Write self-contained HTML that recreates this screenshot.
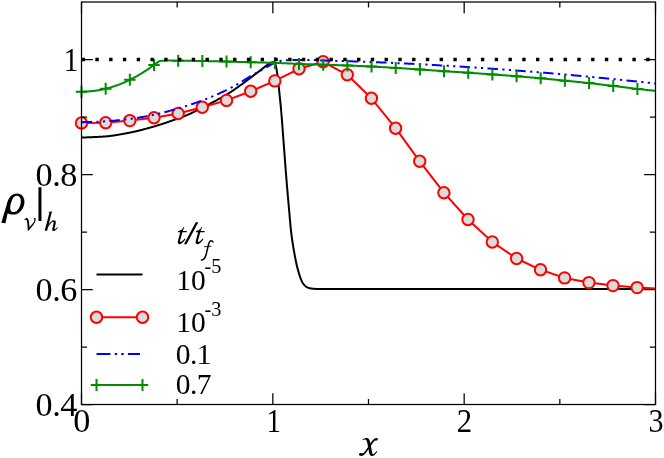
<!DOCTYPE html>
<html><head><meta charset="utf-8"><title>plot</title>
<style>html,body{margin:0;padding:0;background:#fff}svg{display:block}text{filter:grayscale(1);font-family:"Liberation Serif",serif;fill:#000}</style></head>
<body>
<svg width="664" height="458" viewBox="0 0 664 458">
<rect width="664" height="458" fill="#fff"/>
<defs><clipPath id="c"><rect x="81.50" y="2.00" width="574.00" height="402.50"/></clipPath></defs>
<path d="M81.50 137.60 L82.00 137.58 L82.50 137.55 L83.00 137.53 L83.50 137.51 L84.00 137.49 L84.50 137.46 L85.00 137.44 L85.50 137.42 L86.00 137.40 L86.50 137.38 L87.00 137.36 L87.50 137.34 L88.00 137.32 L88.50 137.30 L89.00 137.28 L89.50 137.26 L90.00 137.24 L90.50 137.22 L91.00 137.20 L91.50 137.18 L92.00 137.16 L92.50 137.14 L93.00 137.12 L93.50 137.10 L94.00 137.08 L94.50 137.06 L95.00 137.03 L95.50 137.01 L96.00 136.99 L96.50 136.97 L97.00 136.94 L97.50 136.92 L98.00 136.89 L98.50 136.87 L99.00 136.84 L99.50 136.81 L100.00 136.79 L100.50 136.76 L101.00 136.73 L101.50 136.70 L102.00 136.67 L102.50 136.64 L103.00 136.60 L103.50 136.57 L104.00 136.54 L104.50 136.50 L105.00 136.46 L105.50 136.42 L106.00 136.38 L106.50 136.34 L107.00 136.29 L107.50 136.24 L108.00 136.19 L108.50 136.14 L109.00 136.08 L109.50 136.02 L110.00 135.96 L110.50 135.90 L111.00 135.84 L111.50 135.78 L112.00 135.71 L112.50 135.64 L113.00 135.57 L113.50 135.50 L114.00 135.43 L114.50 135.35 L115.00 135.28 L115.50 135.20 L116.00 135.12 L116.50 135.04 L117.00 134.96 L117.50 134.88 L118.00 134.79 L118.50 134.71 L119.00 134.62 L119.50 134.54 L120.00 134.45 L120.50 134.36 L121.00 134.27 L121.50 134.18 L122.00 134.09 L122.50 134.00 L123.00 133.91 L123.50 133.81 L124.00 133.72 L124.50 133.63 L125.00 133.53 L125.50 133.44 L126.00 133.35 L126.50 133.25 L127.00 133.16 L127.50 133.06 L128.00 132.97 L128.50 132.87 L129.00 132.78 L129.50 132.68 L130.00 132.58 L130.50 132.49 L131.00 132.39 L131.50 132.29 L132.00 132.18 L132.50 132.08 L133.00 131.97 L133.50 131.86 L134.00 131.75 L134.50 131.64 L135.00 131.53 L135.50 131.41 L136.00 131.30 L136.50 131.18 L137.00 131.06 L137.50 130.94 L138.00 130.82 L138.50 130.70 L139.00 130.58 L139.50 130.45 L140.00 130.33 L140.50 130.20 L141.00 130.07 L141.50 129.94 L142.00 129.81 L142.50 129.68 L143.00 129.55 L143.50 129.42 L144.00 129.29 L144.50 129.15 L145.00 129.02 L145.50 128.88 L146.00 128.75 L146.50 128.61 L147.00 128.47 L147.50 128.33 L148.00 128.20 L148.50 128.06 L149.00 127.92 L149.50 127.78 L150.00 127.64 L150.50 127.49 L151.00 127.35 L151.50 127.21 L152.00 127.07 L152.50 126.93 L153.00 126.79 L153.50 126.64 L154.00 126.50 L154.50 126.35 L155.00 126.20 L155.50 126.05 L156.00 125.90 L156.50 125.75 L157.00 125.60 L157.50 125.44 L158.00 125.29 L158.50 125.13 L159.00 124.98 L159.50 124.82 L160.00 124.66 L160.50 124.50 L161.00 124.34 L161.50 124.17 L162.00 124.01 L162.50 123.85 L163.00 123.68 L163.50 123.52 L164.00 123.35 L164.50 123.18 L165.00 123.02 L165.50 122.85 L166.00 122.68 L166.50 122.51 L167.00 122.34 L167.50 122.17 L168.00 122.00 L168.50 121.82 L169.00 121.65 L169.50 121.48 L170.00 121.30 L170.50 121.13 L171.00 120.96 L171.50 120.78 L172.00 120.61 L172.50 120.43 L173.00 120.25 L173.50 120.08 L174.00 119.90 L174.50 119.73 L175.00 119.55 L175.50 119.37 L176.00 119.20 L176.50 119.02 L177.00 118.84 L177.50 118.66 L178.00 118.49 L178.50 118.31 L179.00 118.13 L179.50 117.96 L180.00 117.78 L180.50 117.60 L181.00 117.42 L181.50 117.24 L182.00 117.06 L182.50 116.87 L183.00 116.69 L183.50 116.50 L184.00 116.31 L184.50 116.12 L185.00 115.93 L185.50 115.73 L186.00 115.53 L186.50 115.33 L187.00 115.12 L187.50 114.92 L188.00 114.70 L188.50 114.49 L189.00 114.27 L189.50 114.04 L190.00 113.82 L190.50 113.59 L191.00 113.35 L191.50 113.12 L192.00 112.88 L192.50 112.64 L193.00 112.40 L193.50 112.15 L194.00 111.91 L194.50 111.66 L195.00 111.41 L195.50 111.16 L196.00 110.91 L196.50 110.66 L197.00 110.41 L197.50 110.16 L198.00 109.90 L198.50 109.65 L199.00 109.40 L199.50 109.15 L200.00 108.90 L200.50 108.65 L201.00 108.40 L201.50 108.15 L202.00 107.90 L202.50 107.65 L203.00 107.39 L203.50 107.14 L204.00 106.88 L204.50 106.63 L205.00 106.37 L205.50 106.12 L206.00 105.86 L206.50 105.60 L207.00 105.34 L207.50 105.09 L208.00 104.83 L208.50 104.56 L209.00 104.30 L209.50 104.04 L210.00 103.78 L210.50 103.51 L211.00 103.25 L211.50 102.98 L212.00 102.72 L212.50 102.45 L213.00 102.18 L213.50 101.91 L214.00 101.64 L214.50 101.37 L215.00 101.10 L215.50 100.83 L216.00 100.56 L216.50 100.28 L217.00 100.01 L217.50 99.74 L218.00 99.47 L218.50 99.19 L219.00 98.92 L219.50 98.65 L220.00 98.37 L220.50 98.09 L221.00 97.82 L221.50 97.54 L222.00 97.26 L222.50 96.98 L223.00 96.69 L223.50 96.41 L224.00 96.12 L224.50 95.83 L225.00 95.54 L225.50 95.25 L226.00 94.95 L226.50 94.66 L227.00 94.36 L227.50 94.05 L228.00 93.75 L228.50 93.44 L229.00 93.13 L229.50 92.81 L230.00 92.49 L230.50 92.17 L231.00 91.84 L231.50 91.52 L232.00 91.18 L232.50 90.85 L233.00 90.51 L233.50 90.17 L234.00 89.83 L234.50 89.48 L235.00 89.13 L235.50 88.78 L236.00 88.43 L236.50 88.07 L237.00 87.72 L237.50 87.36 L238.00 87.00 L238.50 86.64 L239.00 86.28 L239.50 85.91 L240.00 85.55 L240.50 85.18 L241.00 84.81 L241.50 84.45 L242.00 84.08 L242.50 83.71 L243.00 83.34 L243.50 82.97 L244.00 82.60 L244.50 82.23 L245.00 81.86 L245.50 81.49 L246.00 81.12 L246.50 80.75 L247.00 80.39 L247.50 80.02 L248.00 79.65 L248.50 79.29 L249.00 78.92 L249.50 78.55 L250.00 78.17 L250.50 77.80 L251.00 77.43 L251.50 77.05 L252.00 76.67 L252.50 76.30 L253.00 75.92 L253.50 75.54 L254.00 75.16 L254.50 74.78 L255.00 74.40 L255.50 74.02 L256.00 73.64 L256.50 73.26 L257.00 72.89 L257.50 72.51 L258.00 72.13 L258.50 71.75 L259.00 71.37 L259.50 70.99 L260.00 70.60 L260.50 70.21 L261.00 69.81 L261.50 69.41 L262.00 69.01 L262.50 68.61 L263.00 68.21 L263.50 67.81 L264.00 67.42 L264.50 67.03 L265.00 66.64 L265.50 66.27 L266.00 65.90 L266.50 65.54 L267.00 65.18 L267.50 64.84 L268.00 64.52 L268.50 64.20 L269.00 63.88 L269.50 63.54 L270.00 63.21 L270.50 62.91 L271.00 62.66 L271.50 62.47 L272.00 62.37 L272.50 62.31 L273.00 62.26 L273.50 62.21 L274.40 62.40 L274.70 62.95 L275.00 63.49 L275.30 64.14 L275.60 65.01 L275.90 66.15 L276.20 67.52 L276.50 69.08 L276.80 70.81 L277.10 72.66 L277.40 74.60 L277.70 76.78 L278.00 79.31 L278.30 82.11 L278.60 85.05 L278.90 88.06 L279.20 91.03 L279.50 93.91 L279.80 96.77 L280.10 99.66 L280.40 102.62 L280.70 105.68 L281.00 108.89 L281.30 112.29 L281.60 115.89 L281.90 119.67 L282.20 123.58 L282.50 127.57 L282.80 131.62 L283.10 135.69 L283.40 139.73 L283.70 143.70 L284.00 147.60 L284.30 151.54 L284.60 155.49 L284.90 159.45 L285.20 163.40 L285.50 167.33 L285.80 171.21 L286.10 175.03 L286.40 178.77 L286.70 182.43 L287.00 186.04 L287.30 189.60 L287.60 193.11 L287.90 196.58 L288.20 200.01 L288.50 203.41 L288.80 206.77 L289.10 210.12 L289.40 213.53 L289.70 216.98 L290.00 220.40 L290.30 223.73 L290.60 226.89 L290.90 229.84 L291.20 232.50 L291.50 234.92 L291.80 237.19 L292.10 239.34 L292.40 241.39 L292.70 243.34 L293.00 245.22 L293.30 247.04 L293.60 248.82 L293.90 250.58 L294.20 252.31 L294.50 254.00 L294.80 255.64 L295.10 257.24 L295.40 258.79 L295.70 260.28 L296.00 261.73 L296.30 263.11 L296.60 264.44 L296.90 265.71 L297.20 266.95 L297.50 268.15 L297.80 269.30 L298.10 270.42 L298.40 271.49 L298.70 272.51 L299.00 273.50 L299.30 274.46 L299.60 275.41 L299.90 276.34 L300.20 277.23 L300.50 278.09 L300.80 278.91 L301.10 279.67 L301.40 280.37 L301.70 281.00 L302.00 281.58 L302.30 282.13 L302.60 282.65 L302.90 283.14 L303.20 283.60 L303.50 284.02 L303.80 284.42 L304.10 284.78 L304.40 285.11 L304.70 285.41 L305.00 285.71 L305.30 285.99 L305.60 286.25 L305.90 286.49 L306.20 286.71 L306.50 286.91 L306.80 287.09 L307.10 287.25 L307.40 287.40 L307.70 287.54 L308.00 287.67 L308.30 287.79 L308.60 287.90 L308.90 288.00 L309.20 288.10 L309.50 288.18 L309.80 288.26 L310.10 288.32 L310.40 288.38 L310.70 288.44 L311.00 288.49 L311.30 288.55 L311.60 288.59 L311.90 288.64 L312.20 288.68 L312.50 288.72 L312.80 288.75 L313.10 288.77 L313.40 288.79 L313.70 288.81 L314.00 288.83 L314.30 288.84 L314.60 288.85 L314.90 288.86 L315.20 288.87 L315.50 288.88 L315.80 288.89 L316.10 288.90 L316.40 288.91 L316.70 288.92 L317.00 288.93 L317.30 288.93 L317.60 288.94 L317.90 288.95 L318.20 288.95 L318.50 288.96 L318.80 288.97 L319.10 288.97 L319.40 288.98 L319.70 288.99 L320.00 289.00 L655.50 289.00" fill="none" stroke="#000" stroke-width="2" stroke-linejoin="round"/>
<path d="M81.50 123.00 L105.70 122.70 L129.80 120.60 L154.00 117.70 L178.20 113.50 L202.30 107.30 L226.50 100.40 L250.70 91.20 L274.80 80.90 L299.00 68.80 L323.10 61.80 L347.30 74.80 L371.40 98.30 L395.60 128.20 L419.70 161.30 L443.90 192.70 L468.00 219.50 L492.30 242.00 L516.60 258.50 L540.50 269.80 L564.60 277.90 L588.90 282.60 L613.00 285.60 L637.10 287.60 L655.50 288.40" fill="none" stroke="#ff0000" stroke-width="2" stroke-linejoin="round"/>
<circle cx="81.50" cy="123.00" r="5.7" fill="#dcdcdc" stroke="#ff0000" stroke-width="2"/>
<circle cx="105.70" cy="122.70" r="5.7" fill="#dcdcdc" stroke="#ff0000" stroke-width="2"/>
<circle cx="129.80" cy="120.60" r="5.7" fill="#dcdcdc" stroke="#ff0000" stroke-width="2"/>
<circle cx="154.00" cy="117.70" r="5.7" fill="#dcdcdc" stroke="#ff0000" stroke-width="2"/>
<circle cx="178.20" cy="113.50" r="5.7" fill="#dcdcdc" stroke="#ff0000" stroke-width="2"/>
<circle cx="202.30" cy="107.30" r="5.7" fill="#dcdcdc" stroke="#ff0000" stroke-width="2"/>
<circle cx="226.50" cy="100.40" r="5.7" fill="#dcdcdc" stroke="#ff0000" stroke-width="2"/>
<circle cx="250.70" cy="91.20" r="5.7" fill="#dcdcdc" stroke="#ff0000" stroke-width="2"/>
<circle cx="274.80" cy="80.90" r="5.7" fill="#dcdcdc" stroke="#ff0000" stroke-width="2"/>
<circle cx="299.00" cy="68.80" r="5.7" fill="#dcdcdc" stroke="#ff0000" stroke-width="2"/>
<circle cx="323.10" cy="61.80" r="5.7" fill="#dcdcdc" stroke="#ff0000" stroke-width="2"/>
<circle cx="347.30" cy="74.80" r="5.7" fill="#dcdcdc" stroke="#ff0000" stroke-width="2"/>
<circle cx="371.40" cy="98.30" r="5.7" fill="#dcdcdc" stroke="#ff0000" stroke-width="2"/>
<circle cx="395.60" cy="128.20" r="5.7" fill="#dcdcdc" stroke="#ff0000" stroke-width="2"/>
<circle cx="419.70" cy="161.30" r="5.7" fill="#dcdcdc" stroke="#ff0000" stroke-width="2"/>
<circle cx="443.90" cy="192.70" r="5.7" fill="#dcdcdc" stroke="#ff0000" stroke-width="2"/>
<circle cx="468.00" cy="219.50" r="5.7" fill="#dcdcdc" stroke="#ff0000" stroke-width="2"/>
<circle cx="492.30" cy="242.00" r="5.7" fill="#dcdcdc" stroke="#ff0000" stroke-width="2"/>
<circle cx="516.60" cy="258.50" r="5.7" fill="#dcdcdc" stroke="#ff0000" stroke-width="2"/>
<circle cx="540.50" cy="269.80" r="5.7" fill="#dcdcdc" stroke="#ff0000" stroke-width="2"/>
<circle cx="564.60" cy="277.90" r="5.7" fill="#dcdcdc" stroke="#ff0000" stroke-width="2"/>
<circle cx="588.90" cy="282.60" r="5.7" fill="#dcdcdc" stroke="#ff0000" stroke-width="2"/>
<circle cx="613.00" cy="285.60" r="5.7" fill="#dcdcdc" stroke="#ff0000" stroke-width="2"/>
<circle cx="637.10" cy="287.60" r="5.7" fill="#dcdcdc" stroke="#ff0000" stroke-width="2"/>
<path d="M81.50 122.19 L82.50 122.16 L83.50 122.13 L84.50 122.09 L85.50 122.06 L86.50 122.03 L87.50 122.00 L88.50 121.96 L89.50 121.93 L90.50 121.90 L91.50 121.87 L92.50 121.84 L93.50 121.80 L94.50 121.77 L95.50 121.74 L96.50 121.70 L97.50 121.67 L98.50 121.63 L99.50 121.59 L100.50 121.55 L101.50 121.50 L102.50 121.46 L103.50 121.41 L104.50 121.36 L105.50 121.31 L106.50 121.25 L107.50 121.19 L108.50 121.13 L109.50 121.06 L110.50 120.98 L111.50 120.90 L112.50 120.82 L113.50 120.73 L114.50 120.64 L115.50 120.55 L116.50 120.45 L117.50 120.35 L118.50 120.24 L119.50 120.14 L120.50 120.03 L121.50 119.91 L122.50 119.80 L123.50 119.68 L124.50 119.56 L125.50 119.44 L126.50 119.32 L127.50 119.20 L128.50 119.08 L129.50 118.95 L130.50 118.82 L131.50 118.69 L132.50 118.55 L133.50 118.41 L134.50 118.27 L135.50 118.12 L136.50 117.97 L137.50 117.81 L138.50 117.65 L139.50 117.48 L140.50 117.32 L141.50 117.14 L142.50 116.97 L143.50 116.79 L144.50 116.61 L145.50 116.42 L146.50 116.23 L147.50 116.04 L148.50 115.85 L149.50 115.65 L150.50 115.45 L151.50 115.25 L152.50 115.05 L153.50 114.84 L154.50 114.63 L155.50 114.41 L156.50 114.19 L157.50 113.97 L158.50 113.74 L159.50 113.50 L160.50 113.26 L161.50 113.01 L162.50 112.76 L163.50 112.50 L164.50 112.24 L165.50 111.98 L166.50 111.71 L167.50 111.44 L168.50 111.17 L169.50 110.89 L170.50 110.61 L171.50 110.33 L172.50 110.05 L173.50 109.77 L174.50 109.48 L175.50 109.19 L176.50 108.90 L177.50 108.62 L178.50 108.32 L179.50 108.03 L180.50 107.74 L181.50 107.44 L182.50 107.14 L183.50 106.83 L184.50 106.52 L185.50 106.21 L186.50 105.90 L187.50 105.58 L188.50 105.26 L189.50 104.94 L190.50 104.61 L191.50 104.28 L192.50 103.94 L193.50 103.61 L194.50 103.27 L195.50 102.92 L196.50 102.57 L197.50 102.22 L198.50 101.87 L199.50 101.51 L200.50 101.14 L201.50 100.78 L202.50 100.41 L203.50 100.03 L204.50 99.65 L205.50 99.26 L206.50 98.87 L207.50 98.47 L208.50 98.07 L209.50 97.66 L210.50 97.25 L211.50 96.83 L212.50 96.41 L213.50 95.99 L214.50 95.56 L215.50 95.13 L216.50 94.69 L217.50 94.25 L218.50 93.80 L219.50 93.35 L220.50 92.90 L221.50 92.44 L222.50 91.98 L223.50 91.51 L224.50 91.04 L225.50 90.56 L226.50 90.07 L227.50 89.57 L228.50 89.07 L229.50 88.56 L230.50 88.04 L231.50 87.52 L232.50 86.99 L233.50 86.45 L234.50 85.91 L235.50 85.35 L236.50 84.78 L237.50 84.19 L238.50 83.59 L239.50 82.99 L240.50 82.37 L241.50 81.75 L242.50 81.12 L243.50 80.49 L244.50 79.86 L245.50 79.23 L246.50 78.61 L247.50 78.00 L248.50 77.39 L249.50 76.80 L250.50 76.21 L251.50 75.63 L252.50 75.06 L253.50 74.50 L254.50 73.93 L255.50 73.37 L256.50 72.81 L257.50 72.26 L258.50 71.71 L259.50 71.15 L260.50 70.60 L261.50 70.05 L262.50 69.49 L263.50 68.93 L264.50 68.37 L265.50 67.81 L266.50 67.24 L267.50 66.67 L268.50 66.10 L269.50 65.54 L270.50 64.99 L271.50 64.46 L272.50 63.93 L273.50 63.42 L274.50 62.95 L275.50 62.54 L276.50 62.17 L277.50 61.82 L278.50 61.49 L279.50 61.19 L280.50 60.93 L281.50 60.72 L282.50 60.57 L283.50 60.47 L284.50 60.39 L285.50 60.33 L286.50 60.26 L287.50 60.21 L288.50 60.16 L289.50 60.12 L290.50 60.08 L291.50 60.05 L292.50 60.03 L293.50 60.01 L294.50 60.00 L295.50 60.00 L296.50 60.00 L297.50 60.00 L298.50 60.00 L299.50 60.00 L300.50 60.00 L301.50 60.01 L302.50 60.01 L303.50 60.01 L304.50 60.01 L305.50 60.01 L306.50 60.02 L307.50 60.02 L308.50 60.02 L309.50 60.02 L310.50 60.03 L311.50 60.03 L312.50 60.03 L313.50 60.03 L314.50 60.04 L315.50 60.04 L316.50 60.04 L317.50 60.04 L318.50 60.05 L319.50 60.20 L320.50 60.35 L321.50 60.51 L322.50 60.54 L323.50 60.56 L324.50 60.58 L325.50 60.61 L326.50 60.63 L327.50 60.65 L328.50 60.68 L329.50 60.70 L330.50 60.73 L331.50 60.75 L332.50 60.78 L333.50 60.81 L334.50 60.83 L335.50 60.86 L336.50 60.89 L337.50 60.91 L338.50 60.94 L339.50 60.97 L340.50 61.00 L341.50 61.03 L342.50 61.06 L343.50 61.09 L344.50 61.12 L345.50 61.15 L346.50 61.18 L347.50 61.21 L348.50 61.24 L349.50 61.27 L350.50 61.30 L351.50 61.34 L352.50 61.37 L353.50 61.40 L354.50 61.43 L355.50 61.47 L356.50 61.50 L357.50 61.53 L358.50 61.57 L359.50 61.60 L360.50 61.64 L361.50 61.67 L362.50 61.71 L363.50 61.75 L364.50 61.78 L365.50 61.82 L366.50 61.85 L367.50 61.89 L368.50 61.93 L369.50 61.97 L370.50 62.00 L371.50 62.04 L372.50 62.08 L373.50 62.12 L374.50 62.16 L375.50 62.20 L376.50 62.24 L377.50 62.28 L378.50 62.32 L379.50 62.36 L380.50 62.40 L381.50 62.44 L382.50 62.48 L383.50 62.53 L384.50 62.57 L385.50 62.61 L386.50 62.65 L387.50 62.70 L388.50 62.74 L389.50 62.78 L390.50 62.83 L391.50 62.87 L392.50 62.92 L393.50 62.96 L394.50 63.01 L395.50 63.05 L396.50 63.10 L397.50 63.14 L398.50 63.19 L399.50 63.23 L400.50 63.28 L401.50 63.33 L402.50 63.38 L403.50 63.42 L404.50 63.47 L405.50 63.52 L406.50 63.57 L407.50 63.62 L408.50 63.67 L409.50 63.71 L410.50 63.76 L411.50 63.81 L412.50 63.86 L413.50 63.91 L414.50 63.97 L415.50 64.02 L416.50 64.07 L417.50 64.12 L418.50 64.17 L419.50 64.22 L420.50 64.27 L421.50 64.33 L422.50 64.38 L423.50 64.43 L424.50 64.49 L425.50 64.54 L426.50 64.59 L427.50 64.65 L428.50 64.70 L429.50 64.76 L430.50 64.81 L431.50 64.87 L432.50 64.92 L433.50 64.98 L434.50 65.04 L435.50 65.09 L436.50 65.15 L437.50 65.21 L438.50 65.26 L439.50 65.32 L440.50 65.38 L441.50 65.44 L442.50 65.49 L443.50 65.55 L444.50 65.61 L445.50 65.67 L446.50 65.73 L447.50 65.79 L448.50 65.85 L449.50 65.91 L450.50 65.97 L451.50 66.03 L452.50 66.09 L453.50 66.15 L454.50 66.21 L455.50 66.27 L456.50 66.34 L457.50 66.40 L458.50 66.46 L459.50 66.52 L460.50 66.59 L461.50 66.65 L462.50 66.71 L463.50 66.78 L464.50 66.84 L465.50 66.91 L466.50 66.97 L467.50 67.03 L468.50 67.10 L469.50 67.17 L470.50 67.23 L471.50 67.30 L472.50 67.36 L473.50 67.43 L474.50 67.50 L475.50 67.56 L476.50 67.63 L477.50 67.70 L478.50 67.76 L479.50 67.83 L480.50 67.90 L481.50 67.97 L482.50 68.04 L483.50 68.11 L484.50 68.17 L485.50 68.24 L486.50 68.31 L487.50 68.38 L488.50 68.45 L489.50 68.52 L490.50 68.59 L491.50 68.67 L492.50 68.74 L493.50 68.81 L494.50 68.88 L495.50 68.95 L496.50 69.02 L497.50 69.10 L498.50 69.17 L499.50 69.24 L500.50 69.31 L501.50 69.39 L502.50 69.46 L503.50 69.53 L504.50 69.61 L505.50 69.68 L506.50 69.76 L507.50 69.83 L508.50 69.91 L509.50 69.98 L510.50 70.06 L511.50 70.13 L512.50 70.21 L513.50 70.29 L514.50 70.36 L515.50 70.44 L516.50 70.52 L517.50 70.59 L518.50 70.67 L519.50 70.75 L520.50 70.83 L521.50 70.90 L522.50 70.98 L523.50 71.06 L524.50 71.14 L525.50 71.22 L526.50 71.30 L527.50 71.38 L528.50 71.46 L529.50 71.54 L530.50 71.62 L531.50 71.70 L532.50 71.78 L533.50 71.86 L534.50 71.94 L535.50 72.03 L536.50 72.11 L537.50 72.19 L538.50 72.27 L539.50 72.35 L540.50 72.44 L541.50 72.52 L542.50 72.60 L543.50 72.69 L544.50 72.77 L545.50 72.85 L546.50 72.94 L547.50 73.02 L548.50 73.11 L549.50 73.19 L550.50 73.28 L551.50 73.36 L552.50 73.45 L553.50 73.53 L554.50 73.62 L555.50 73.71 L556.50 73.79 L557.50 73.88 L558.50 73.97 L559.50 74.05 L560.50 74.14 L561.50 74.23 L562.50 74.32 L563.50 74.41 L564.50 74.49 L565.50 74.58 L566.50 74.67 L567.50 74.76 L568.50 74.85 L569.50 74.94 L570.50 75.03 L571.50 75.12 L572.50 75.21 L573.50 75.30 L574.50 75.39 L575.50 75.48 L576.50 75.57 L577.50 75.67 L578.50 75.76 L579.50 75.85 L580.50 75.94 L581.50 76.03 L582.50 76.13 L583.50 76.22 L584.50 76.31 L585.50 76.41 L586.50 76.50 L587.50 76.59 L588.50 76.69 L589.50 76.78 L590.50 76.88 L591.50 76.97 L592.50 77.07 L593.50 77.16 L594.50 77.26 L595.50 77.35 L596.50 77.45 L597.50 77.54 L598.50 77.64 L599.50 77.74 L600.50 77.83 L601.50 77.93 L602.50 78.03 L603.50 78.12 L604.50 78.22 L605.50 78.32 L606.50 78.42 L607.50 78.52 L608.50 78.62 L609.50 78.71 L610.50 78.81 L611.50 78.91 L612.50 79.01 L613.50 79.11 L614.50 79.21 L615.50 79.31 L616.50 79.41 L617.50 79.51 L618.50 79.61 L619.50 79.71 L620.50 79.82 L621.50 79.92 L622.50 80.02 L623.50 80.12 L624.50 80.22 L625.50 80.33 L626.50 80.43 L627.50 80.53 L628.50 80.63 L629.50 80.74 L630.50 80.84 L631.50 80.94 L632.50 81.05 L633.50 81.15 L634.50 81.26 L635.50 81.36 L636.50 81.47 L637.50 81.57 L638.50 81.68 L639.50 81.78 L640.50 81.89 L641.50 81.99 L642.50 82.10 L643.50 82.21 L644.50 82.31 L645.50 82.42 L646.50 82.53 L647.50 82.63 L648.50 82.74 L649.50 82.85 L650.50 82.96 L651.50 83.07 L652.50 83.17 L653.50 83.28 L654.50 83.39 L655.50 83.46" fill="none" stroke="#0000ff" stroke-width="2" stroke-dasharray="10.5 4.4 2.2 4.3 2.2 4.3"/>
<path d="M81.50 91.69 L82.50 91.69 L83.50 91.67 L84.50 91.64 L85.50 91.61 L86.50 91.56 L87.50 91.51 L88.50 91.44 L89.50 91.36 L90.50 91.28 L91.50 91.18 L92.50 91.08 L93.50 90.96 L94.50 90.83 L95.50 90.69 L96.50 90.55 L97.50 90.39 L98.50 90.22 L99.50 90.04 L100.50 89.86 L101.50 89.66 L102.50 89.45 L103.50 89.23 L104.50 89.00 L105.50 88.76 L106.50 88.51 L107.50 88.26 L108.50 87.99 L109.50 87.71 L110.50 87.42 L111.50 87.12 L112.50 86.81 L113.50 86.49 L114.50 86.16 L115.50 85.82 L116.50 85.47 L117.50 85.11 L118.50 84.73 L119.50 84.35 L120.50 83.96 L121.50 83.56 L122.50 83.15 L123.50 82.73 L124.50 82.30 L125.50 81.85 L126.50 81.40 L127.50 80.94 L128.50 80.47 L129.50 79.98 L130.50 79.49 L131.50 78.99 L132.50 78.47 L133.50 77.95 L134.50 77.42 L135.50 76.87 L136.50 76.32 L137.50 75.76 L138.50 75.18 L139.50 74.60 L140.50 74.00 L141.50 73.40 L142.50 72.78 L143.50 72.16 L144.50 71.52 L145.50 70.88 L146.50 70.22 L147.50 69.56 L148.50 68.88 L149.50 68.20 L150.50 67.50 L151.50 66.79 L152.50 66.08 L153.50 65.35 L154.50 64.61 L155.50 63.87 L156.50 63.11 L157.50 62.34 L158.50 61.71 L159.50 61.22 L160.50 60.88 L161.50 60.70 L162.50 60.67 L163.50 60.65 L164.50 60.64 L165.50 60.63 L166.50 60.62 L167.50 60.61 L168.50 60.61 L169.50 60.60 L170.50 60.61 L171.50 60.61 L172.50 60.62 L173.50 60.63 L174.50 60.65 L175.50 60.66 L176.50 60.68 L177.50 60.69 L178.50 60.71 L179.50 60.72 L180.50 60.73 L181.50 60.74 L182.50 60.75 L183.50 60.77 L184.50 60.78 L185.50 60.79 L186.50 60.80 L187.50 60.81 L188.50 60.82 L189.50 60.83 L190.50 60.85 L191.50 60.86 L192.50 60.87 L193.50 60.88 L194.50 60.90 L195.50 60.91 L196.50 60.92 L197.50 60.94 L198.50 60.95 L199.50 60.97 L200.50 60.98 L201.50 61.00 L202.50 61.02 L203.50 61.03 L204.50 61.05 L205.50 61.07 L206.50 61.10 L207.50 61.12 L208.50 61.14 L209.50 61.16 L210.50 61.19 L211.50 61.21 L212.50 61.24 L213.50 61.27 L214.50 61.29 L215.50 61.32 L216.50 61.35 L217.50 61.37 L218.50 61.40 L219.50 61.43 L220.50 61.46 L221.50 61.48 L222.50 61.51 L223.50 61.54 L224.50 61.57 L225.50 61.59 L226.50 61.62 L227.50 61.65 L228.50 61.67 L229.50 61.70 L230.50 61.72 L231.50 61.75 L232.50 61.77 L233.50 61.80 L234.50 61.82 L235.50 61.84 L236.50 61.87 L237.50 61.89 L238.50 61.92 L239.50 61.94 L240.50 61.97 L241.50 61.99 L242.50 62.02 L243.50 62.04 L244.50 62.06 L245.50 62.09 L246.50 62.11 L247.50 62.14 L248.50 62.16 L249.50 62.19 L250.50 62.21 L251.50 62.24 L252.50 62.26 L253.50 62.29 L254.50 62.31 L255.50 62.33 L256.50 62.36 L257.50 62.38 L258.50 62.41 L259.50 62.43 L260.50 62.46 L261.50 62.49 L262.50 62.51 L263.50 62.54 L264.50 62.57 L265.50 62.60 L266.50 62.63 L267.50 62.66 L268.50 62.69 L269.50 62.72 L270.50 62.75 L271.50 62.79 L272.50 62.82 L273.50 62.85 L274.50 62.89 L275.50 62.92 L276.50 62.96 L277.50 63.00 L278.50 63.04 L279.50 63.08 L280.50 63.12 L281.50 63.16 L282.50 63.20 L283.50 63.24 L284.50 63.28 L285.50 63.33 L286.50 63.37 L287.50 63.41 L288.50 63.46 L289.50 63.50 L290.50 63.54 L291.50 63.58 L292.50 63.62 L293.50 63.66 L294.50 63.70 L295.50 63.74 L296.50 63.78 L297.50 63.82 L298.50 63.86 L299.50 63.90 L300.50 63.94 L301.50 63.98 L302.50 64.02 L303.50 64.06 L304.50 64.10 L305.50 64.14 L306.50 64.17 L307.50 64.21 L308.50 64.25 L309.50 64.28 L310.50 64.32 L311.50 64.35 L312.50 64.38 L313.50 64.41 L314.50 64.44 L315.50 64.47 L316.50 64.50 L317.50 64.53 L318.50 64.56 L319.50 64.59 L320.50 64.62 L321.50 64.65 L322.50 64.68 L323.50 64.70 L324.50 64.73 L325.50 64.76 L326.50 64.79 L327.50 64.82 L328.50 64.85 L329.50 64.88 L330.50 64.92 L331.50 64.95 L332.50 64.98 L333.50 65.01 L334.50 65.05 L335.50 65.08 L336.50 65.12 L337.50 65.15 L338.50 65.18 L339.50 65.22 L340.50 65.25 L341.50 65.29 L342.50 65.33 L343.50 65.36 L344.50 65.40 L345.50 65.43 L346.50 65.47 L347.50 65.51 L348.50 65.54 L349.50 65.58 L350.50 65.62 L351.50 65.66 L352.50 65.70 L353.50 65.73 L354.50 65.77 L355.50 65.81 L356.50 65.85 L357.50 65.89 L358.50 65.94 L359.50 65.98 L360.50 66.02 L361.50 66.07 L362.50 66.11 L363.50 66.16 L364.50 66.21 L365.50 66.25 L366.50 66.30 L367.50 66.35 L368.50 66.40 L369.50 66.45 L370.50 66.50 L371.50 66.55 L372.50 66.60 L373.50 66.65 L374.50 66.71 L375.50 66.76 L376.50 66.81 L377.50 66.87 L378.50 66.92 L379.50 66.97 L380.50 67.03 L381.50 67.08 L382.50 67.14 L383.50 67.19 L384.50 67.25 L385.50 67.31 L386.50 67.36 L387.50 67.42 L388.50 67.48 L389.50 67.54 L390.50 67.60 L391.50 67.66 L392.50 67.72 L393.50 67.78 L394.50 67.84 L395.50 67.90 L396.50 67.96 L397.50 68.02 L398.50 68.09 L399.50 68.15 L400.50 68.22 L401.50 68.28 L402.50 68.35 L403.50 68.41 L404.50 68.48 L405.50 68.54 L406.50 68.61 L407.50 68.68 L408.50 68.74 L409.50 68.81 L410.50 68.88 L411.50 68.94 L412.50 69.01 L413.50 69.08 L414.50 69.15 L415.50 69.22 L416.50 69.28 L417.50 69.35 L418.50 69.42 L419.50 69.49 L420.50 69.55 L421.50 69.62 L422.50 69.69 L423.50 69.76 L424.50 69.83 L425.50 69.90 L426.50 69.97 L427.50 70.04 L428.50 70.11 L429.50 70.18 L430.50 70.24 L431.50 70.31 L432.50 70.38 L433.50 70.45 L434.50 70.52 L435.50 70.59 L436.50 70.66 L437.50 70.73 L438.50 70.80 L439.50 70.87 L440.50 70.94 L441.50 71.00 L442.50 71.07 L443.50 71.14 L444.50 71.20 L445.50 71.27 L446.50 71.33 L447.50 71.40 L448.50 71.46 L449.50 71.52 L450.50 71.59 L451.50 71.65 L452.50 71.71 L453.50 71.78 L454.50 71.84 L455.50 71.90 L456.50 71.96 L457.50 72.03 L458.50 72.09 L459.50 72.15 L460.50 72.21 L461.50 72.28 L462.50 72.34 L463.50 72.41 L464.50 72.47 L465.50 72.54 L466.50 72.60 L467.50 72.67 L468.50 72.73 L469.50 72.80 L470.50 72.87 L471.50 72.94 L472.50 73.00 L473.50 73.07 L474.50 73.14 L475.50 73.21 L476.50 73.28 L477.50 73.35 L478.50 73.42 L479.50 73.49 L480.50 73.56 L481.50 73.63 L482.50 73.70 L483.50 73.77 L484.50 73.85 L485.50 73.92 L486.50 73.99 L487.50 74.06 L488.50 74.13 L489.50 74.20 L490.50 74.28 L491.50 74.35 L492.50 74.42 L493.50 74.49 L494.50 74.57 L495.50 74.64 L496.50 74.71 L497.50 74.78 L498.50 74.86 L499.50 74.93 L500.50 75.00 L501.50 75.07 L502.50 75.15 L503.50 75.22 L504.50 75.29 L505.50 75.37 L506.50 75.44 L507.50 75.52 L508.50 75.59 L509.50 75.67 L510.50 75.75 L511.50 75.82 L512.50 75.90 L513.50 75.98 L514.50 76.06 L515.50 76.14 L516.50 76.22 L517.50 76.30 L518.50 76.38 L519.50 76.46 L520.50 76.55 L521.50 76.63 L522.50 76.71 L523.50 76.80 L524.50 76.88 L525.50 76.97 L526.50 77.06 L527.50 77.14 L528.50 77.23 L529.50 77.32 L530.50 77.41 L531.50 77.50 L532.50 77.59 L533.50 77.68 L534.50 77.77 L535.50 77.86 L536.50 77.95 L537.50 78.04 L538.50 78.13 L539.50 78.22 L540.50 78.31 L541.50 78.40 L542.50 78.49 L543.50 78.58 L544.50 78.68 L545.50 78.77 L546.50 78.86 L547.50 78.96 L548.50 79.05 L549.50 79.15 L550.50 79.24 L551.50 79.34 L552.50 79.43 L553.50 79.53 L554.50 79.62 L555.50 79.72 L556.50 79.82 L557.50 79.91 L558.50 80.01 L559.50 80.11 L560.50 80.21 L561.50 80.30 L562.50 80.40 L563.50 80.50 L564.50 80.60 L565.50 80.70 L566.50 80.80 L567.50 80.90 L568.50 81.00 L569.50 81.10 L570.50 81.20 L571.50 81.30 L572.50 81.40 L573.50 81.50 L574.50 81.60 L575.50 81.70 L576.50 81.80 L577.50 81.90 L578.50 82.00 L579.50 82.11 L580.50 82.21 L581.50 82.31 L582.50 82.42 L583.50 82.52 L584.50 82.63 L585.50 82.73 L586.50 82.84 L587.50 82.95 L588.50 83.06 L589.50 83.17 L590.50 83.28 L591.50 83.39 L592.50 83.50 L593.50 83.61 L594.50 83.72 L595.50 83.84 L596.50 83.95 L597.50 84.07 L598.50 84.18 L599.50 84.30 L600.50 84.42 L601.50 84.53 L602.50 84.65 L603.50 84.77 L604.50 84.89 L605.50 85.00 L606.50 85.12 L607.50 85.24 L608.50 85.36 L609.50 85.48 L610.50 85.60 L611.50 85.72 L612.50 85.84 L613.50 85.96 L614.50 86.08 L615.50 86.20 L616.50 86.33 L617.50 86.45 L618.50 86.57 L619.50 86.70 L620.50 86.82 L621.50 86.95 L622.50 87.08 L623.50 87.20 L624.50 87.33 L625.50 87.46 L626.50 87.58 L627.50 87.71 L628.50 87.83 L629.50 87.96 L630.50 88.08 L631.50 88.20 L632.50 88.33 L633.50 88.45 L634.50 88.57 L635.50 88.69 L636.50 88.81 L637.50 88.92 L638.50 89.04 L639.50 89.15 L640.50 89.26 L641.50 89.38 L642.50 89.49 L643.50 89.60 L644.50 89.71 L645.50 89.82 L646.50 89.92 L647.50 90.03 L648.50 90.14 L649.50 90.25 L650.50 90.36 L651.50 90.46 L652.50 90.57 L653.50 90.68 L654.50 90.77 L655.50 90.83" fill="none" stroke="#008b00" stroke-width="2" stroke-linejoin="round"/>
<path d="M75.75 91.69h11.5M81.50 85.69v12M99.92 88.72h11.5M105.67 82.72v12M124.09 79.82h11.5M129.84 73.82v12M148.26 64.98h11.5M154.01 58.98v12M172.43 60.70h11.5M178.18 54.70v12M196.60 61.01h11.5M202.35 55.01v12M220.77 61.62h11.5M226.52 55.62v12M244.94 62.22h11.5M250.69 56.22v12M269.11 62.90h11.5M274.86 56.90v12M293.28 63.88h11.5M299.03 57.88v12M317.45 64.70h11.5M323.20 58.70v12M341.62 65.50h11.5M347.37 59.50v12M365.79 66.55h11.5M371.54 60.55v12M389.96 67.91h11.5M395.71 61.91v12M414.13 69.51h11.5M419.88 63.51v12M438.30 71.17h11.5M444.05 65.17v12M462.47 72.72h11.5M468.22 66.72v12M486.64 74.41h11.5M492.39 68.41v12M510.81 76.22h11.5M516.56 70.22v12M534.98 78.33h11.5M540.73 72.33v12M559.15 80.64h11.5M564.90 74.64v12M583.32 83.12h11.5M589.07 77.12v12M607.49 85.93h11.5M613.24 79.93v12M631.66 88.91h11.5M637.41 82.91v12" fill="none" stroke="#008b00" stroke-width="2"/>
<path d="M81.60 59.50H655.50" fill="none" stroke="#000" stroke-width="3.4" stroke-dasharray="3.4 10.37"/>
<rect x="81.50" y="2.00" width="574.00" height="402.50" fill="none" stroke="#000" stroke-width="1.25"/>
<path d="M81.50 404.50v-11.3M81.50 2.00v11.3M177.17 404.50v-5.6M177.17 2.00v5.6M272.83 404.50v-11.3M272.83 2.00v11.3M368.50 404.50v-5.6M368.50 2.00v5.6M464.17 404.50v-11.3M464.17 2.00v11.3M559.83 404.50v-5.6M559.83 2.00v5.6M655.50 404.50v-11.3M655.50 2.00v11.3M81.50 404.50h11.3M655.50 404.50h-11.3M81.50 347.00h5.6M655.50 347.00h-5.6M81.50 289.50h11.3M655.50 289.50h-11.3M81.50 232.00h5.6M655.50 232.00h-5.6M81.50 174.50h11.3M655.50 174.50h-11.3M81.50 117.00h5.6M655.50 117.00h-5.6M81.50 59.50h11.3M655.50 59.50h-11.3" fill="none" stroke="#000" stroke-width="1.25"/>
<text transform="translate(81.70,432.3) scale(1.00,1)" font-size="34.2" text-anchor="middle">0</text>
<text transform="translate(273.73,432.3) scale(0.85,1)" font-size="34.2" text-anchor="middle">1</text>
<text transform="translate(464.47,432.3) scale(0.90,1)" font-size="34.2" text-anchor="middle">2</text>
<text transform="translate(656.10,432.3) scale(0.88,1)" font-size="34.2" text-anchor="middle">3</text>
<text x="76.8" y="416.00" font-size="34.2" letter-spacing="-0.5" text-anchor="end">0.4</text>
<text x="76.8" y="301.00" font-size="34.2" letter-spacing="-0.5" text-anchor="end">0.6</text>
<text x="76.8" y="186.00" font-size="34.2" letter-spacing="-0.5" text-anchor="end">0.8</text>
<text transform="translate(78.2,71.00) scale(0.85,1)" font-size="34.2" text-anchor="end">1</text>
<g transform="translate(345,425) scale(0.0753)"><path d="M232 195C250 175 275 170 295 172C318 175 330 200 336 235L360 365C364 388 372 392 380 388C395 378 408 362 418 345L428 352C410 385 385 412 360 412C335 412 325 395 318 360L296 240C290 210 282 195 268 193C255 192 245 197 238 203Z"/><path d="M436 188C436 200 428 208 415 206C395 203 380 215 355 260L300 340C275 380 250 412 215 412C198 412 186 402 186 390C186 378 196 370 208 372C225 375 240 385 262 355L322 270C350 225 380 172 415 172C428 172 436 178 436 188Z"/></g>
<path transform="translate(0,185) scale(0.10917)" fill-rule="evenodd" d="M12 345L50 350L70 258C85 268 110 272 130 270C185 265 226 205 224 150C222 105 195 78 155 78C100 78 72 130 60 185ZM150 98C120 98 102 150 94 197C90 228 102 250 128 248C164 245 191 192 191 146C191 113 175 98 150 98Z"/>
<g transform="translate(22,205) scale(0.06547)"><path d="M35 218L72 196C97 205 107 240 111 290L113 338C150 300 190 255 190 228C190 215 180 212 180 205C182 196 198 195 206 205C216 222 205 255 175 300L100 395L88 395C86 340 84 270 72 235C66 222 55 222 40 228Z"/><path d="M402 112L458 96L384 392L346 392L418 122C420 114 412 114 402 118Z"/><path d="M400 305C430 255 470 228 495 232C520 238 520 265 512 295L498 350C494 368 500 372 510 366C522 358 532 346 540 335L548 342C530 370 505 396 480 396C462 396 458 380 464 358L478 300C486 270 486 256 474 256C452 258 420 295 398 340Z"/></g>
<rect x="38.45" y="187.2" width="3.0" height="33.8" fill="#000"/>
<g transform="translate(170,220) scale(0.09823)"><path d="M145 72L130 112L172 112L168 124L126 124L104 205C100 222 108 226 120 218C132 210 142 198 150 188L158 194C140 222 118 248 96 246C78 244 76 228 82 208L104 124L80 124L83 114C110 108 128 95 138 72Z"/><path transform="translate(182,0)" d="M145 72L130 112L172 112L168 124L126 124L104 205C100 222 108 226 120 218C132 210 142 198 150 188L158 194C140 222 118 248 96 246C78 244 76 228 82 208L104 124L80 124L83 114C110 108 128 95 138 72Z"/><path d="M262 22L288 22L168 246L142 246Z"/><path d="M438 224C430 208 410 206 400 228C390 250 384 282 375 322C365 365 356 410 320 407" fill="none" stroke="#000" stroke-width="15" stroke-linecap="round"/><path d="M346 272L420 268" fill="none" stroke="#000" stroke-width="9"/></g>
<path d="M96.5 274.5H142.5" stroke="#000" stroke-width="2"/>
<text x="176.2" y="290" font-size="29.5">10</text><text x="204.4" y="273" font-size="20.3">-5</text>
<path d="M96.5 317.3H142.5" stroke="#ff0000" stroke-width="2"/>
<circle cx="96.5" cy="317.3" r="5.7" fill="#dcdcdc" stroke="#ff0000" stroke-width="2"/><circle cx="142.5" cy="317.3" r="5.7" fill="#dcdcdc" stroke="#ff0000" stroke-width="2"/>
<text x="176.2" y="332" font-size="29.5">10</text><text x="204.4" y="315.7" font-size="20.3">-3</text>
<path d="M96.5 353.9H140" stroke="#0000ff" stroke-width="2" stroke-dasharray="14 4.2 2.4 4.2 2.4 4.2"/>
<text x="175.7" y="363.8" font-size="29.5" letter-spacing="-0.5">0.1</text>
<path d="M96.5 385.1H142.5M90.75 385.1h11.5M96.5 379.1v12M136.75 385.1h11.5M142.5 379.1v12" stroke="#008b00" stroke-width="2" fill="none"/>
<text x="175.7" y="393.7" font-size="29.5" letter-spacing="-0.5">0.7</text>
</svg></body></html>
